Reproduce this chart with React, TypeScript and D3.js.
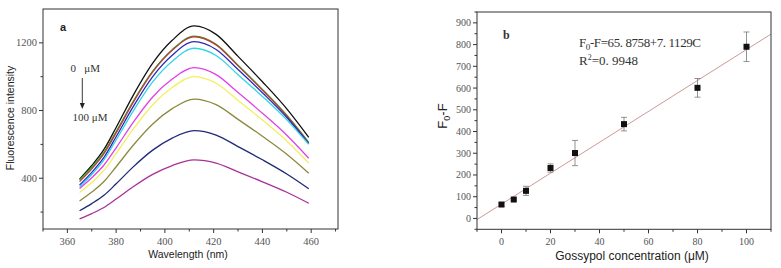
import React from "react";
import * as d3 from "d3";

// ---------- Panel a data ----------
const wavelengths = [365, 370, 375, 380, 387, 395, 403, 412, 421, 430, 440, 450, 459];
const sBlack = [395, 475, 570, 700, 890, 1080, 1215, 1300, 1250, 1120, 970, 810, 642];
const sGreen = [390, 465, 554, 676, 855, 1033, 1160, 1240, 1192, 1068, 925, 772, 612];
const sRed = [380, 455, 545, 668, 848, 1028, 1156, 1236, 1188, 1064, 921, 768, 608];
const sBlue = [360, 435, 523, 645, 823, 1001, 1127, 1207, 1161, 1042, 905, 759, 605];
const sCyan = [350, 422, 508, 626, 797, 969, 1091, 1168, 1125, 1012, 883, 745, 600];
const sMagenta = [340, 403, 478, 580, 730, 880, 986, 1053, 1012, 906, 784, 654, 518];
const sYellow = [315, 375, 447, 546, 690, 834, 936, 1000, 961, 860, 744, 620, 490];
const sOlive = [265, 318, 381, 468, 595, 721, 811, 868, 835, 748, 648, 542, 430];
const sNavy = [208, 250, 299, 367, 467, 566, 637, 681, 655, 587, 509, 425, 338];
const sPurple = [160, 191, 227, 277, 350, 423, 475, 508, 489, 438, 379, 317, 252];
const spectraColors = ["#111111", "#2fae2f", "#b8403a", "#2a2ab8", "#33d4e8", "#e040e6", "#f2f060", "#8c8a3e", "#1e2a78", "#a8329a"];
const spectra = [sBlack, sGreen, sRed, sBlue, sCyan, sMagenta, sYellow, sOlive, sNavy, sPurple];
const xTicksA = [360, 380, 400, 420, 440, 460];
const xMinorA = [350, 370, 390, 410, 430, 450, 470];
const yTicksA = [400, 800, 1200];
const yMinorA = [200, 600, 1000];

// ---------- Panel b data ----------
const concentrations = [0, 5, 10, 20, 30, 50, 80, 100];
const quench = [64, 87, 127, 232, 301, 434, 601, 790];
const quenchErr = [8, 5, 21, 19, 58, 31, 43, 68];
const fitIntercept = 65.8758;
const fitSlope = 7.1129;
const xTicksB = [0, 20, 40, 60, 80, 100];
const xMinorB = [-10, 10, 30, 50, 70, 90, 110];
const yTicksB = [0, 100, 200, 300, 400, 500, 600, 700, 800, 900];
const yMinorB = [-50, 50, 150, 250, 350, 450, 550, 650, 750, 850, 950];

const serif = "'Liberation Serif', 'DejaVu Serif', serif";
const sans = "'Liberation Sans', Arial, sans-serif";
const axisColor = "#333";

export default function App() {
  // panel a scales
  const xa = d3.scaleLinear().domain([350, 471]).range([43, 338]);
  const ya = d3.scaleLinear().domain([100, 1400]).range([229, 9]);
  const lineA = d3
    .line<number>()
    .x((_, i) => xa(wavelengths[i]))
    .y((d) => ya(d))
    .curve(d3.curveMonotoneX);

  // panel b scales
  const xb = d3.scaleLinear().domain([-10, 110]).range([477, 771]);
  const yb = d3.scaleLinear().domain([-50, 950]).range([229.3, 12]);
  const fitX = [-10, 110];

  const [ax0, ax1] = xa.range();
  const [ay0, ay1] = ya.range();
  const [bx0, bx1] = xb.range();
  const [by0, by1] = yb.range();

  return (
    <svg width={781} height={268} style={{ position: "absolute", left: 0, top: 0, background: "#fff" }}>
      {/* ===== Panel a ===== */}
      <g>
        {spectra.map((s, k) => (
          <path key={k} d={lineA(s) || ""} fill="none" stroke={spectraColors[k]} strokeWidth={1.3} />
        ))}
        <rect x={ax0} y={ay1} width={ax1 - ax0} height={ay0 - ay1} fill="none" stroke={axisColor} strokeWidth={1} />
        {xTicksA.map((t) => (
          <g key={t}>
            <line x1={xa(t)} x2={xa(t)} y1={ay0} y2={ay0 + 4} stroke={axisColor} />
            <text x={xa(t)} y={ay0 + 16} textAnchor="middle" fontFamily={serif} fontSize={10.5} fill="#555">{t}</text>
          </g>
        ))}
        {xMinorA.map((t) => (
          <line key={t} x1={xa(t)} x2={xa(t)} y1={ay0} y2={ay0 + 2.5} stroke={axisColor} />
        ))}
        {yTicksA.map((t) => (
          <g key={t}>
            <line x1={ax0 - 4} x2={ax0} y1={ya(t)} y2={ya(t)} stroke={axisColor} />
            <text x={ax0 - 6} y={ya(t) + 3.5} textAnchor="end" fontFamily={serif} fontSize={10.5} fill="#555">{t}</text>
          </g>
        ))}
        {yMinorA.map((t) => (
          <line key={t} x1={ax0 - 2.5} x2={ax0} y1={ya(t)} y2={ya(t)} stroke={axisColor} />
        ))}
        <text x={188} y={258} textAnchor="middle" fontFamily={sans} fontSize={10.5} fill="#222">Wavelength (nm)</text>
        <text transform="translate(14,118) rotate(-90)" textAnchor="middle" fontFamily={sans} fontSize={10.5} fill="#222">Fluorescence intensity</text>
        <text x={60} y={31} fontFamily={sans} fontWeight="bold" fontSize={11} fill="#222">a</text>
        <text x={70.5} y={72} fontFamily={serif} fontSize={11} fill="#333" xmlSpace="preserve">0   μM</text>
        <line x1={82.3} x2={82.3} y1={78} y2={104} stroke="#222" strokeWidth={0.9} />
        <path d="M79.8,103 L82.3,109 L84.8,103 Z" fill="#222" />
        <text x={72.5} y={121} fontFamily={serif} fontSize={11} fill="#333">100 μM</text>
      </g>

      {/* ===== Panel b ===== */}
      <g>
        <line x1={xb(fitX[0])} y1={yb(fitIntercept + fitSlope * fitX[0])} x2={xb(fitX[1])} y2={yb(fitIntercept + fitSlope * fitX[1])} stroke="#d09898" strokeWidth={1} />
        {concentrations.map((c, i) => (
          <g key={c}>
            <line x1={xb(c)} x2={xb(c)} y1={yb(quench[i] - quenchErr[i])} y2={yb(quench[i] + quenchErr[i])} stroke="#777" strokeWidth={0.8} />
            <line x1={xb(c) - 3} x2={xb(c) + 3} y1={yb(quench[i] + quenchErr[i])} y2={yb(quench[i] + quenchErr[i])} stroke="#777" strokeWidth={0.8} />
            <line x1={xb(c) - 3} x2={xb(c) + 3} y1={yb(quench[i] - quenchErr[i])} y2={yb(quench[i] - quenchErr[i])} stroke="#777" strokeWidth={0.8} />
            <rect x={xb(c) - 3} y={yb(quench[i]) - 3} width={6} height={6} fill="#111" />
          </g>
        ))}
        <rect x={bx0} y={by1} width={bx1 - bx0} height={by0 - by1} fill="none" stroke={axisColor} strokeWidth={1} />
        {xTicksB.map((t) => (
          <g key={t}>
            <line x1={xb(t)} x2={xb(t)} y1={by0} y2={by0 + 4} stroke={axisColor} />
            <text x={xb(t)} y={by0 + 16} textAnchor="middle" fontFamily={serif} fontSize={10} fill="#555">{t}</text>
          </g>
        ))}
        {xMinorB.map((t) => (
          <line key={t} x1={xb(t)} x2={xb(t)} y1={by0} y2={by0 + 2.5} stroke={axisColor} />
        ))}
        {yTicksB.map((t) => (
          <g key={t}>
            <line x1={bx0 - 4} x2={bx0} y1={yb(t)} y2={yb(t)} stroke={axisColor} />
            <text x={bx0 - 6} y={yb(t) + 3.5} textAnchor="end" fontFamily={serif} fontSize={10} fill="#555">{t}</text>
          </g>
        ))}
        {yMinorB.map((t) => (
          <line key={t} x1={bx0 - 2.5} x2={bx0} y1={yb(t)} y2={yb(t)} stroke={axisColor} />
        ))}
        <text x={632} y={260} textAnchor="middle" fontFamily={sans} fontSize={12} fill="#222">Gossypol concentration (μM)</text>
        <text transform="translate(447,116) rotate(-90)" textAnchor="middle" fontFamily={sans} fontSize={13} fill="#222">
          F<tspan fontSize={9} dy={3}>0</tspan><tspan dy={-3}>-F</tspan>
        </text>
        <text x={503} y={39} fontFamily={serif} fontWeight="bold" fontSize={12} fill="#333">b</text>
        <text x={579} y={47} fontFamily={serif} fontSize={13} fill="#333" textLength={122} lengthAdjust="spacing">
          F<tspan fontSize={9} dy={3}>0</tspan><tspan dy={-3}>-F=65. 8758+7. 1129C</tspan>
        </text>
        <text x={579} y={65} fontFamily={serif} fontSize={13} fill="#333">
          R<tspan fontSize={8} dy={-5}>2</tspan><tspan dy={5}>=0. 9948</tspan>
        </text>
      </g>
    </svg>
  );
}
